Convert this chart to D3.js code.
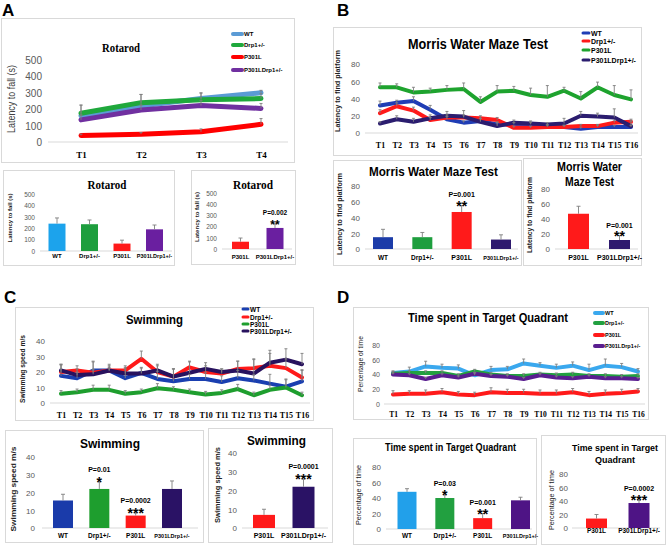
<!DOCTYPE html>
<html><head><meta charset="utf-8">
<script src="https://cdn.jsdelivr.net/npm/d3@7"></script>
<style>body{margin:0;background:#fff}svg{display:block}</style>
</head><body>
<svg id="c" width="666" height="547"></svg>
<script>
// ---------------- DATA ----------------
const trials4 = ["T1","T2","T3","T4"];
const trials16 = ["T1","T2","T3","T4","T5","T6","T7","T8","T9","T10","T11","T12","T13","T14","T15","T16"];
const groups = ["WT","Drp1+/-","P301L","P301LDrp1+/-"];
const pairGroups = ["P301L","P301LDrp1+/-"];

// A: Rotarod (latency to fall, s)
const rotTicks = [0,100,200,300,400,500];
const rotWT = [160,220,265,300];
const rotDrp1 = [175,240,258,265];
const rotP301L = [40,48,62,108];
const rotP301LDrp1 = [135,195,222,205];
const rotWTErr = [65,70,35,15];
const rotDrp1Err = [50,50,40,30];
const rotP301LErr = [8,10,18,35];
const rotP301LDrp1Err = [30,30,30,30];
const rotBar = [240,235,65,190];
const rotBarErr = [50,37,30,38];
const rotPair = [65,188];
const rotPairErr = [33,37];
const rotPairP = ["","P=0.002"];
const rotPairStars = ["","**"];

// B: Morris water maze (latency to find platform)
const mwmTicks = [0,20,40,60,80];
const mwmWT = [32,35,37,27,16,12,14,10,10,10,8,7,5,7,7,7];
const mwmDrp1 = [23,31,26,15,18,18,17,15,6,6,7,7,8,8,12,13];
const mwmP301L = [53,53,47,48,50,51,36,48,49,44,42,49,40,53,44,39];
const mwmP301LDrp1 = [11,16,13,17,20,19,13,8,12,11,10,11,20,19,18,8];
const mwmWTErr = [5,3,5,5,3,2,3,3,2,2,2,2,2,2,2,2];
const mwmDrp1Err = [4,4,4,3,3,3,3,3,2,2,2,2,2,2,3,3];
const mwmP301LErr = [5,4,6,4,5,7,6,7,5,8,13,4,8,6,11,11];
const mwmP301LDrp1Err = [2,4,4,4,5,7,4,4,3,3,2,6,5,4,10,6];
const mwmBar = [15,15,47,12];
const mwmBarErr = [10,6,8,6];
const mwmBarP = ["","","P=0.001",""];
const mwmBarStars = ["","","**",""];
const mwmPair = [47,12];
const mwmPairErr = [10,6];
const mwmPairP = ["","P=0.001"];
const mwmPairStars = ["","**"];

// C: Swimming speed (m/s)
const swTicks = [0,10,20,30,40];
const swWT = [17.5,16,21,21,16,19.5,15.5,14,15.5,15.5,13.5,16,14.5,12.5,10.5,14];
const swDrp1 = [20,21,19.5,21,21,28.5,20,17,23,20,19,22,22.5,24,22.5,16.5];
const swP301L = [6,7,8.5,8.5,6,7,9.5,8.5,7,5.5,6.5,9,5,8.5,10,5];
const swP301LDrp1 = [21,18,18.5,21,19,19,21,17,19.5,22,20,21,19,26,28,25];
const swWTErr = [7,4,6,3,6,3,5,8,3,4,4,5,4,6,5,7];
const swDrp1Err = [5,3,2,2,3,5,4,5,4,4,3,5,6,8,6,5];
const swP301LErr = [2,2,3,3,2,2,3,2,2,2,2,3,2,3,5,2];
const swP301LDrp1Err = [4,4,8,4,4,4,4,5,7,4,2,6,9,8,7,7];
const swBar = [15.5,22,7,22];
const swBarErr = [3.5,4,1.5,4.5];
const swBarP = ["","P=0.01","P=0.0002",""];
const swBarStars = ["","*","***",""];
const swPair = [7,22];
const swPairErr = [3,4];
const swPairP = ["","P=0.0001"];
const swPairStars = ["","***"];

// D: Time spent in target quadrant (%)
const tqTicks = [0,20,40,60,80];
const tqWT = [42,44,51,49,48,39,46,47,55,52,49,52,46,52,50,44];
const tqDrp1 = [41,42,42,42,38,44,40,38,38,40,39,40,38,38,37,38];
const tqP301L = [13,14,14,16,13,12,16,15,15,14,14,16,12,14,15,17];
const tqP301LDrp1 = [40,39,34,39,36,41,38,37,34,39,36,35,37,35,35,34];
const tqWTErr = [3,6,7,5,5,3,5,4,6,4,5,5,8,9,5,4];
const tqDrp1Err = [3,3,3,3,3,3,3,3,3,3,3,3,3,3,3,3];
const tqP301LErr = [5,4,5,5,4,4,6,5,5,5,5,5,5,5,5,4];
const tqP301LDrp1Err = [2,2,2,2,2,2,2,2,2,2,2,2,2,2,2,2];
const tqBar = [48,40,14,37];
const tqBarErr = [4,4,6,4];
const tqBarP = ["","P=0.03","P=0.001",""];
const tqBarStars = ["","*","**",""];
const tqPair = [14,37];
const tqPairErr = [6,4];
const tqPairP = ["","P=0.0002"];
const tqPairStars = ["","***"];

// ---------------- DRAWING ----------------
const svg = d3.select("#c");
const SANS = "'Liberation Sans', Arial, sans-serif";
const SERIF = "'Liberation Serif', 'Times New Roman', serif";

function frame(x,y,w,h){
  svg.append("rect").attr("x",x+0.5).attr("y",y+0.5).attr("width",w).attr("height",h)
    .attr("fill","#fff").attr("stroke","#d9d9d9").attr("stroke-width",1);
}
function txt(s,x,y,o){
  o=o||{};
  const t=svg.append("text").attr("x",x).attr("y",y).text(s)
    .attr("font-family",o.family||SANS).attr("font-size",o.size||8)
    .attr("font-weight",o.weight||"bold").attr("fill",o.fill||"#000")
    .attr("text-anchor",o.anchor||"middle");
  if(o.len){t.attr("textLength",o.len).attr("lengthAdjust","spacingAndGlyphs");}
  if(o.rot){t.attr("transform",`rotate(-90,${x},${y})`).attr("dominant-baseline","central");}
  return t;
}
function yAxis(y, ticks, xr, size){
  const g=svg.append("g").attr("transform",`translate(${xr},0)`)
    .call(d3.axisLeft(y).tickValues(ticks).tickSize(0).tickPadding(0));
  g.select(".domain").remove();
  g.selectAll("text").attr("font-family",SANS).attr("font-size",size).attr("fill","#595959").attr("dy","0.35em");
}
function baseline(y, x0, x1){
  svg.append("line").attr("x1",x0).attr("x2",x1).attr("y1",y).attr("y2",y)
    .attr("stroke","#d9d9d9").attr("stroke-width",1);
}
function errBars(xs, vals, errs, y, cap){
  const g=svg.append("g");
  vals.forEach((v,i)=>{
    const x=xs[i], y0=y(v), y1=y(v+errs[i]);
    g.append("line").attr("x1",x).attr("x2",x).attr("y1",y0).attr("y2",y1).attr("stroke","#7f7f7f").attr("stroke-width",0.9);
    g.append("line").attr("x1",x-cap).attr("x2",x+cap).attr("y1",y1).attr("y2",y1).attr("stroke","#7f7f7f").attr("stroke-width",0.9);
  });
}

function lineChart(o){
  const x=d3.scalePoint().domain(o.cats).range(o.xr);
  const y=d3.scaleLinear().domain([0,o.max]).range(o.yr);
  baseline(o.yr[0], o.base[0], o.base[1]);
  yAxis(y,o.ticks,o.tickX,o.tickSize);
  const xg=svg.append("g").attr("transform",`translate(0,${o.catY})`)
    .call(d3.axisBottom(x).tickSize(0).tickPadding(0));
  xg.select(".domain").remove();
  xg.selectAll("text").attr("font-family",SERIF).attr("font-weight","bold").attr("font-size",o.catSize).attr("fill","#000").attr("dy","0");
  const line=d3.line().x((d,i)=>x(o.cats[i])).y(d=>y(d)).curve(d3.curveLinear);
  o.series.forEach(s=>{
    svg.append("path").attr("d",line(s.values)).attr("fill","none").attr("stroke",s.color)
      .attr("stroke-width",o.lw).attr("stroke-linejoin","round").attr("stroke-linecap","round");
  });
  o.series.forEach(s=>{ errBars(o.cats.map(c=>x(c)), s.values, s.err, y, 1.5); });
  // legend
  o.series.forEach((s,i)=>{
    const ly=o.leg.y[i];
    svg.append("line").attr("x1",o.leg.x0).attr("x2",o.leg.x1).attr("y1",ly).attr("y2",ly)
      .attr("stroke",s.color).attr("stroke-width",o.leg.w).attr("stroke-linecap","round");
    txt(s.name,o.leg.tx,ly,{anchor:"start",size:o.leg.size}).attr("dominant-baseline","central");
  });
}

function barChart(o){
  const n=o.cats.length;
  const step=(o.c1-o.c0)/(n-1);
  const x=d3.scaleBand().domain(o.cats).range([o.c0-o.bw/2,o.c1+o.bw/2]).paddingInner(1-o.bw/step).paddingOuter(0);
  const y=d3.scaleLinear().domain([0,o.max]).range(o.yr);
  baseline(o.yr[0], o.base[0], o.base[1]);
  yAxis(y,o.ticks,o.tickX,o.tickSize);
  svg.append("g").selectAll("rect").data(o.values).join("rect")
    .attr("x",(d,i)=>x(o.cats[i])).attr("width",x.bandwidth())
    .attr("y",d=>y(d)).attr("height",d=>y(0)-y(d))
    .attr("fill",(d,i)=>o.colors[i]);
  const cx=o.cats.map(c=>x(c)+x.bandwidth()/2);
  errBars(cx,o.values,o.err,y,2);
  o.cats.forEach((c,i)=>{
    txt(c,cx[i],o.catY,{size:o.catSize[i]||o.catSize});
  });
  if(o.p){
    o.p.forEach((p,i)=>{
      if(!p) return;
      const top=y(o.values[i]+o.err[i]);
      txt(p,cx[i],top-o.pOff,{size:o.pSize});
      txt(o.stars[i],cx[i],top+o.sOff,{size:o.sSize});
    });
  }
}

// ---- Panel letters
txt("A",2,16,{anchor:"start",size:17});
txt("B",337,16,{anchor:"start",size:17});
txt("C",4,303,{anchor:"start",size:17});
txt("D",337,303,{anchor:"start",size:17});

// ---- Frames
frame(1,18,293,144);
frame(3,170,171,95);
frame(191,170,104,94);
frame(333,27,308,128);
frame(333,160,188,105);
frame(523,158,118,107);
frame(15,307,298,113);
frame(5,430,198,112);
frame(208,428,124,114);
frame(353,307,295,112);
frame(353,438,183,106);
frame(541,435,124,109);

// ---- A: Rotarod line
txt("Rotarod",121,52,{family:SERIF,size:13,len:38});
txt("Latency to fall (s)",11,99,{size:10,weight:"normal",fill:"#404040",rot:true,len:68});
lineChart({cats:trials4,xr:[81,261],yr:[142,60],max:500,ticks:rotTicks,tickX:42,tickSize:10,
  base:[48,288],catY:158,catSize:9,lw:5,
  series:[{name:"WT",color:"#5b9bd5",values:rotWT,err:rotWTErr},
          {name:"Drp1+/-",color:"#1fa83c",values:rotDrp1,err:rotDrp1Err},
          {name:"P301L",color:"#ff0000",values:rotP301L,err:rotP301LErr},
          {name:"P301LDrp1+/-",color:"#7030a0",values:rotP301LDrp1,err:rotP301LDrp1Err}],
  leg:{x0:233,x1:242,tx:244,y:[34,45,57,70],w:4,size:6}});

// A: bar
txt("Rotarod",107,189,{family:SERIF,size:13,len:39});
txt("Latency to fall  (s)",10,218,{size:6,rot:true,len:49,fill:"#222"});
barChart({cats:groups,c0:57,c1:154.5,bw:17,yr:[251,194],max:500,ticks:rotTicks,tickX:35,tickSize:6.5,
  base:[40,172],values:rotBar,err:rotBarErr,colors:["#1ca3ec","#1e9e3e","#ff1a1a","#6a1fa0"],
  catY:258,catSize:[6,6,6,5.5]});
txt("Rotarod",253,189,{family:SERIF,size:13,len:40});
txt("Latency to fall  (s)",197,217,{size:6,rot:true,len:50,fill:"#222"});
barChart({cats:pairGroups,c0:240.5,c1:275,bw:17,yr:[249,193],max:500,ticks:rotTicks,tickX:217,tickSize:6.5,
  base:[222,292],values:rotPair,err:rotPairErr,colors:["#ff1a1a","#6a1fa0"],
  catY:259,catSize:6,p:rotPairP,stars:rotPairStars,pOff:9,sOff:5,pSize:6.5,sSize:12});

// ---- B: MWM line
txt("Morris Water Maze Test",478,49,{size:15,len:140});
txt("Latency to find platform",337,91,{size:7,rot:true,len:82,fill:"#222"});
lineChart({cats:trials16,xr:[380,631],yr:[133,64],max:80,ticks:mwmTicks,tickX:360,tickSize:8,
  base:[365,638],catY:148,catSize:8,lw:4,
  series:[{name:"WT",color:"#1f3db5",values:mwmWT,err:mwmWTErr},
          {name:"Drp1+/-",color:"#ff1a1a",values:mwmDrp1,err:mwmDrp1Err},
          {name:"P301L",color:"#1ea32e",values:mwmP301L,err:mwmP301LErr},
          {name:"P301LDrp1+/-",color:"#2b1d6f",values:mwmP301LDrp1,err:mwmP301LDrp1Err}],
  leg:{x0:583,x1:589,tx:591,y:[33,41,50,60],w:3,size:7}});

txt("Morris Water Maze Test",433.5,176,{size:13,len:129});
txt("Latency to find platform",339,214,{size:7,rot:true,len:82,fill:"#222"});
barChart({cats:groups,c0:383,c1:501,bw:20,yr:[249,186],max:80,ticks:mwmTicks,tickX:360,tickSize:8,
  base:[365,518],values:mwmBar,err:mwmBarErr,colors:["#1c3ca8","#1e9e3e","#ff1a1a","#2e1a6e"],
  catY:260,catSize:[6.5,6.5,7,5.5],p:mwmBarP,stars:mwmBarStars,pOff:9,sOff:5,pSize:7,sSize:14});
txt("Morris Water",589.5,171,{size:12,len:65});
txt("Maze Test",589.5,186,{size:12,len:49});
txt("Latency to find platform",529,215,{size:7,rot:true,len:76,fill:"#222"});
barChart({cats:pairGroups,c0:578.5,c1:619.5,bw:21,yr:[249,189],max:80,ticks:mwmTicks,tickX:550,tickSize:8,
  base:[555,638],values:mwmPair,err:mwmPairErr,colors:["#ff1a1a","#2e1a6e"],
  catY:260,catSize:7,p:mwmPairP,stars:mwmPairStars,pOff:8,sOff:5,pSize:7,sSize:14});

// ---- C: Swimming line
txt("Swimming",154.5,324,{size:13,len:57});
txt("Swimming speed m/s",22,369,{size:7,rot:true,len:68,fill:"#222"});
lineChart({cats:trials16,xr:[61,302],yr:[403,341],max:40,ticks:swTicks,tickX:45,tickSize:8,
  base:[50,310],catY:418,catSize:8,lw:4,
  series:[{name:"WT",color:"#1a3fb0",values:swWT,err:swWTErr},
          {name:"Drp1+/-",color:"#ff1a1a",values:swDrp1,err:swDrp1Err},
          {name:"P301L",color:"#1e9e2e",values:swP301L,err:swP301LErr},
          {name:"P301LDrp1+/-",color:"#28125e",values:swP301LDrp1,err:swP301LDrp1Err}],
  leg:{x0:243,x1:248,tx:250,y:[309,317,324,331],w:3,size:6.5}});

txt("Swimming",110,448,{size:13,len:60});
txt("Swimming speed m/s",13,489,{size:8,rot:true,len:85,fill:"#222"});
barChart({cats:groups,c0:63,c1:172,bw:20,yr:[528,457],max:40,ticks:swTicks,tickX:35,tickSize:8,
  base:[42,198],values:swBar,err:swBarErr,colors:["#1a3baa","#1e9e2e","#ff1a1a","#2a1265"],
  catY:538,catSize:[6.5,6.5,6.5,5.5],p:swBarP,stars:swBarStars,pOff:10,sOff:5,pSize:7,sSize:14});
txt("Swimming",276.5,445,{size:13,len:59});
txt("Swimming speed m/s",217,485,{size:8,rot:true,len:76,fill:"#222"});
barChart({cats:pairGroups,c0:264,c1:303.5,bw:22,yr:[528,453],max:40,ticks:swTicks,tickX:237,tickSize:8,
  base:[242,328],values:swPair,err:swPairErr,colors:["#ff1a1a","#2a1265"],
  catY:538,catSize:7,p:swPairP,stars:swPairStars,pOff:10,sOff:5,pSize:7,sSize:14});

// ---- D: Target quadrant line
txt("Time spent in Target Quadrant",488,322,{size:13,len:160});
txt("Percentage of time",360,364,{size:7,rot:true,len:56,fill:"#222",weight:"normal"});
lineChart({cats:trials16,xr:[393,638],yr:[404,345],max:80,ticks:tqTicks,tickX:380,tickSize:7,
  base:[384,645],catY:417,catSize:7.5,lw:4,
  series:[{name:"WT",color:"#3aa8ee",values:tqWT,err:tqWTErr},
          {name:"Drp1+/-",color:"#22a040",values:tqDrp1,err:tqDrp1Err},
          {name:"P301L",color:"#ff1a1a",values:tqP301L,err:tqP301LErr},
          {name:"P301LDrp1+/-",color:"#5a1e90",values:tqP301LDrp1,err:tqP301LDrp1Err}],
  leg:{x0:595,x1:603,tx:605,y:[313,323,335,346],w:4,size:5.5}});

txt("Time spent in Target Quadrant",450.5,451,{size:11,len:131});
txt("Percentage of time",358,495,{size:7,rot:true,len:60,fill:"#222",weight:"normal"});
barChart({cats:groups,c0:407,c1:520.5,bw:19,yr:[529,467],max:80,ticks:tqTicks,tickX:381,tickSize:8,
  base:[386,532],values:tqBar,err:tqBarErr,colors:["#22a0ea","#22a040","#ff1a1a","#4e1485"],
  catY:538,catSize:[6.5,6.5,6.5,5.5],p:tqBarP,stars:tqBarStars,pOff:9,sOff:5,pSize:7,sSize:14});
txt("Time spent in Target",615,451,{size:9,len:86});
txt("Quadrant",615,463,{size:9.5,len:40});
txt("Percentage of time",551,500,{size:7,rot:true,len:60,fill:"#222",weight:"normal"});
barChart({cats:pairGroups,c0:596.5,c1:639,bw:21,yr:[528,474],max:80,ticks:tqTicks,tickX:568,tickSize:8,
  base:[572,660],values:tqPair,err:tqPairErr,colors:["#ff1a1a","#4e1485"],
  catY:533,catSize:6.5,p:tqPairP,stars:tqPairStars,pOff:9,sOff:5,pSize:7,sSize:14});
</script>
</body></html>
